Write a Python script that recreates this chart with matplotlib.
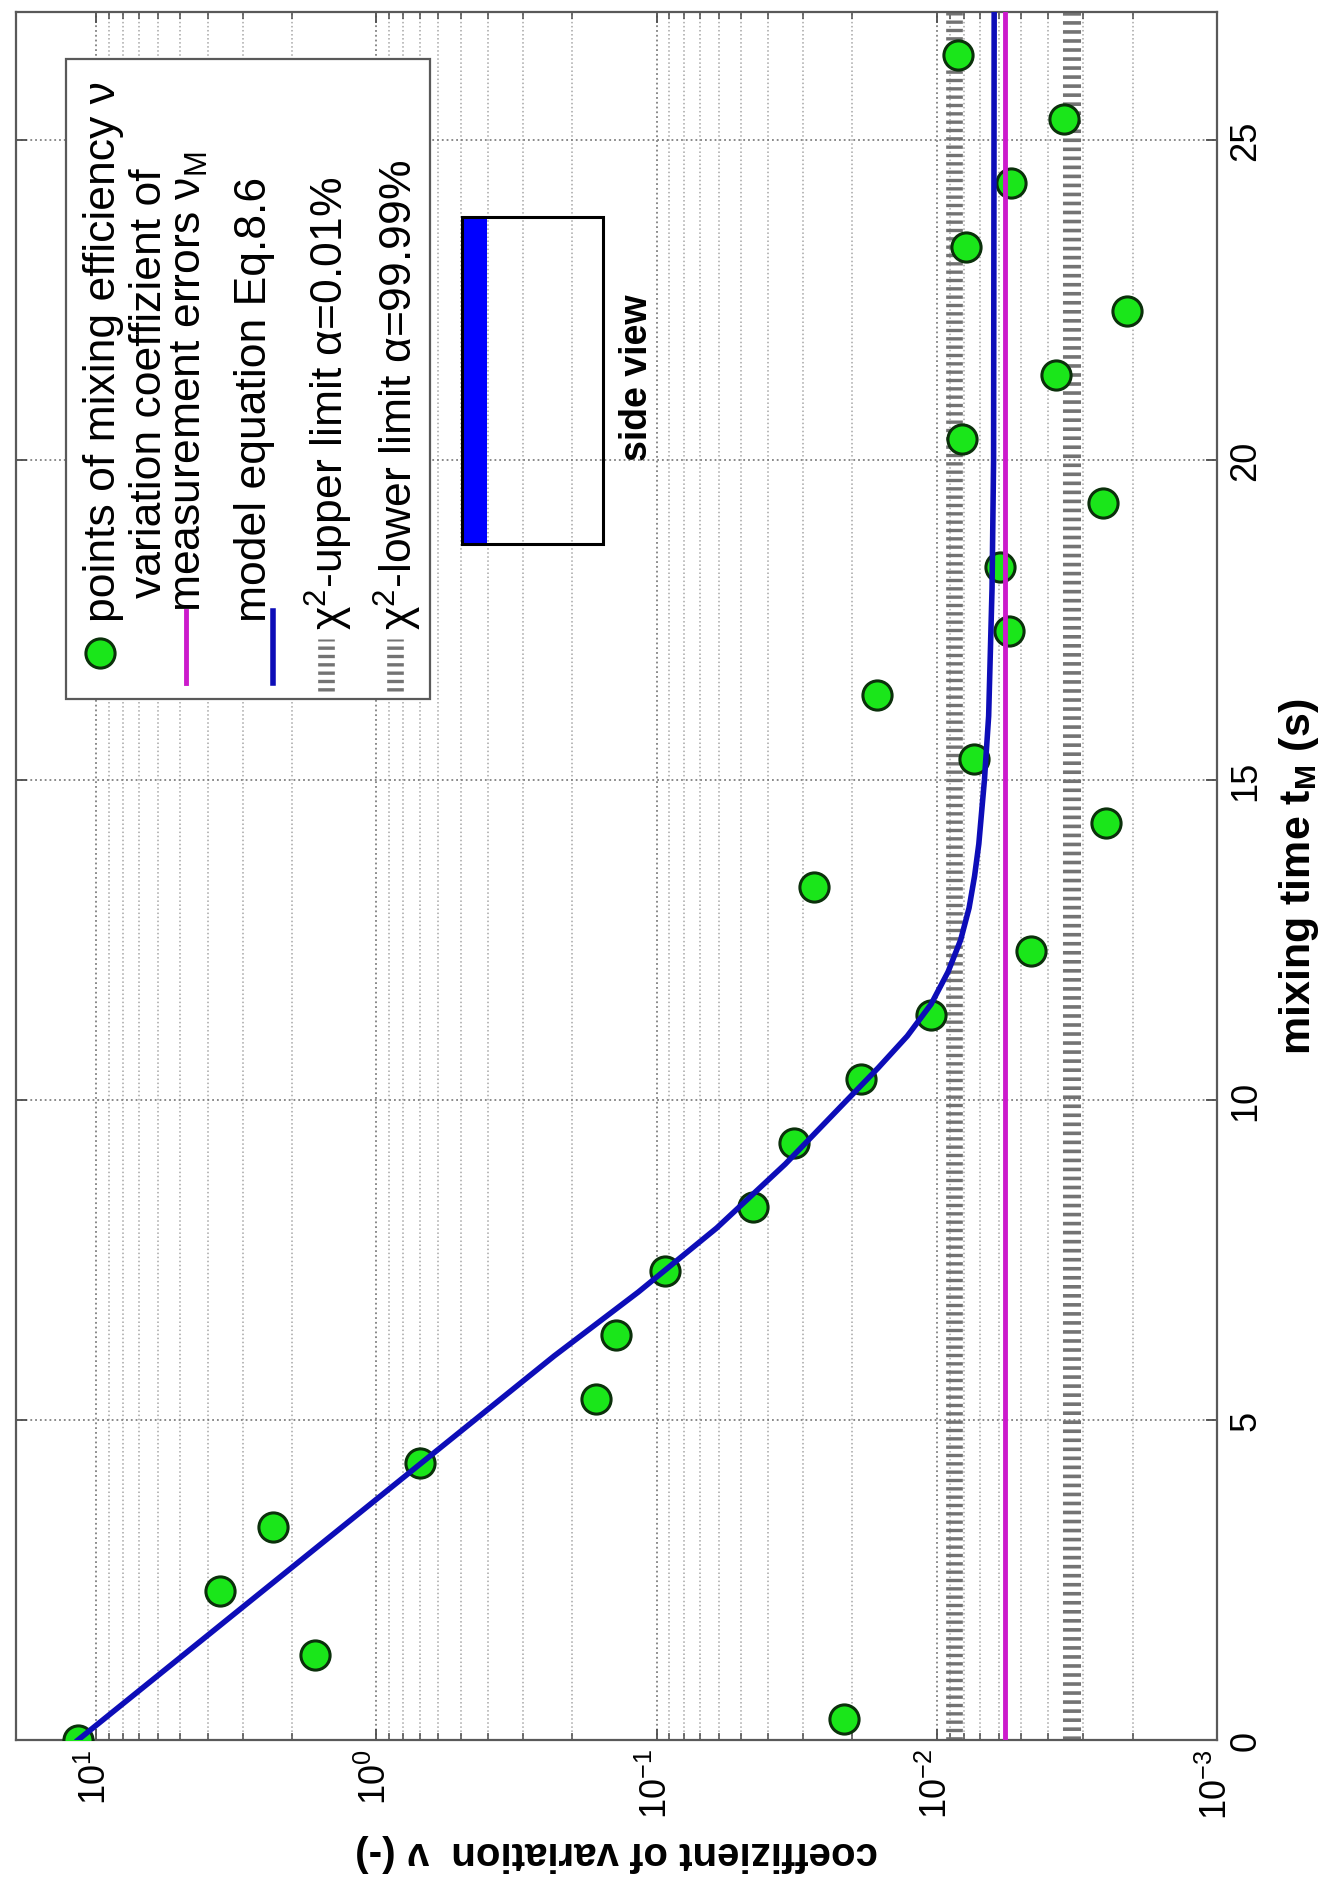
import matplotlib
matplotlib.use("Agg")
import matplotlib.pyplot as plt
from matplotlib.patches import Rectangle

plt.rcParams["font.family"] = ["Liberation Sans", "DejaVu Sans"]
plt.rcParams["mathtext.fontset"] = "custom"
plt.rcParams["mathtext.rm"] = "Liberation Sans"
plt.rcParams["mathtext.it"] = "Liberation Sans:italic"
plt.rcParams["mathtext.bf"] = "Liberation Sans:bold"

# measured points (mixing time in s, coefficient of variation)
t_points = [0, 0.33, 1.33, 2.33, 3.33, 4.33, 5.33, 6.33, 7.33, 8.33,
            9.33, 10.33, 11.33, 12.33, 13.33, 14.33, 15.33, 16.33, 17.33,
            18.33, 19.33, 20.33, 21.33, 22.33, 23.33, 24.33, 25.33, 26.33]
nu_points = [11.6, 0.0215, 1.66, 3.61, 2.33, 0.697, 0.165, 0.139, 0.0929, 0.0451,
             0.0324, 0.0187, 0.0105, 0.0046, 0.0275, 0.00249, 0.00738, 0.0163, 0.00553,
             0.00596, 0.00255, 0.00815, 0.00376, 0.0021, 0.00787, 0.00544, 0.00352, 0.0084]

# model equation Eq. 8.6
t_model = [0, 2, 4, 6, 7, 8, 9, 10, 10.5, 11, 11.5, 12, 12.5, 13, 13.5, 14, 15, 16, 18, 20, 27]
nu_model = [11.6, 3.15, 0.855, 0.232, 0.1161, 0.0610, 0.0347, 0.0209, 0.0162, 0.01274,
            0.01047, 0.00912, 0.00822, 0.00767, 0.00733, 0.00708, 0.00676, 0.00653,
            0.00635, 0.00627, 0.00624]

nu_M = 0.0057          # variation coefficient of measurement errors
chi_upper = 0.0087     # chi^2 upper limit alpha=0.01%
chi_lower = 0.0033     # chi^2 lower limit alpha=99.99%

nu_ticks = [1e-3, 1e-2, 1e-1, 1e0, 1e1]
nu_ticklabels = ["$10^{-3}$", "$10^{-2}$", "$10^{-1}$", "$10^{0}$", "$10^{1}$"]
t_ticks = [0, 5, 10, 15, 20, 25]

legend_labels = ["points of mixing efficiency ν",
                 "variation coeffizient of",
                 "measurement errors ν$_\\mathrm{M}$",
                 "model equation Eq.8.6",
                 "χ$^2$-upper limit α=0.01%",
                 "χ$^2$-lower limit α=99.99%"]

green = (0.1, 0.9, 0.1)
blue = (0.05, 0.05, 0.72)
magenta = (0.8, 0.1, 0.8)
chi_color = "0.45"
chi_style = (0, (0.2, 0.3))

fig = plt.figure(figsize=(13.33, 18.83), dpi=100)
ax = fig.add_axes([0.012, 0.0754, 0.901, 0.9177])

ax.set_xscale("log")
ax.set_xlim(19.3, 1e-3)
ax.set_ylim(0, 27)

# chart is drawn turned on its side: time runs upward, nu runs right to left
ax.axvline(chi_upper, color=chi_color, lw=12, ls=chi_style, zorder=2)
ax.axvline(chi_lower, color=chi_color, lw=13, ls=chi_style, zorder=2)
ax.plot(nu_points, t_points, "o", ms=21, mfc=green, mec="#0b300b", mew=2.2, zorder=3)
ax.axvline(nu_M, color=magenta, lw=3.5, zorder=4)
ax.plot(nu_model, t_model, color=blue, lw=4, zorder=5)

ax.set_xticks(nu_ticks)
ax.set_xticklabels(nu_ticklabels)
ax.set_yticks(t_ticks)
ax.set_yticklabels([str(v) for v in t_ticks])

ax.set_axisbelow(True)
ax.grid(True, which="major", axis="x", ls=":", color="0.5", lw=1.3)
ax.grid(True, which="minor", axis="x", ls=":", color="0.65", lw=1.1)
ax.grid(True, which="major", axis="y", ls=":", color="0.5", lw=1.3)

ax.tick_params(which="both", direction="in", top=True, bottom=True, left=True, right=True,
               labelleft=False, labelright=True, colors="0.3", labelcolor="black")
ax.tick_params(which="major", length=8, width=1.3)
ax.tick_params(which="minor", length=5, width=1.1)
ax.tick_params(axis="x", labelsize=26, labelrotation=90, pad=6)
ax.tick_params(axis="y", labelsize=26, labelrotation=90, pad=8)
for lbl in ax.get_yticklabels():
    lbl.set_va("center")

for s in ax.spines.values():
    s.set_color("0.35")
    s.set_linewidth(1.6)

ax.set_xlabel("coeffizient of variation  ν (-)", rotation=180, fontsize=29,
              fontweight="bold", labelpad=10)
ax.yaxis.set_label_position("right")
ax.set_ylabel("mixing time $\\mathbf{t_M}$ (s)", rotation=90, fontsize=31,
              fontweight="bold", labelpad=10)


def axpos(px, py):
    # pixel position in the picture -> axes fraction
    return (px - 16) / 1201, (1741 - py) / 1728


# legend drawn by hand, turned like the rest
x0, y0 = axpos(66, 700)
x1, y1 = axpos(430, 60)
ax.add_patch(Rectangle((x0, y0), x1 - x0, y1 - y0, transform=ax.transAxes,
                       facecolor="white", edgecolor="0.35", lw=1.6, zorder=10))

lx, ly = axpos(100, 654)
ax.plot([lx], [ly], "o", ms=21, mfc=green, mec="#0b300b", mew=2.2,
        transform=ax.transAxes, clip_on=False, zorder=11)
samples = [(186, 612, 684, magenta, 3.5, "-"), (273, 612, 684, blue, 4, "-"),
           (326, 640, 692, chi_color, 12, chi_style), (395, 640, 692, chi_color, 12, chi_style)]
for px, top, bottom, color, lw, ls in samples:
    xa, ya0 = axpos(px, bottom)
    _, ya1 = axpos(px, top)
    ax.plot([xa, xa], [ya0, ya1], color=color, lw=lw, ls=ls,
            transform=ax.transAxes, clip_on=False, zorder=11)

text_spots = [(104, 622), (150, 598), (189, 612), (254, 622), (329, 630), (398, 630)]
for (px, py), txt in zip(text_spots, legend_labels):
    xa, ya = axpos(px, py)
    ax.text(xa, ya, txt, rotation=90, ha="center", va="bottom", fontsize=32,
            transform=ax.transAxes, zorder=12)

# side view sketch
sx0, sy0 = axpos(462, 545)
sx1, sy1 = axpos(603, 218)
bx1, _ = axpos(487, 545)
ax.add_patch(Rectangle((sx0, sy0), bx1 - sx0, sy1 - sy0, transform=ax.transAxes,
                       facecolor=(0, 0, 1), edgecolor="none", zorder=10))
ax.add_patch(Rectangle((sx0, sy0), sx1 - sx0, sy1 - sy0, transform=ax.transAxes,
                       facecolor="none", edgecolor="black", lw=2.2, zorder=11))
tx, ty = axpos(637, 378)
ax.text(tx, ty, "side view", rotation=90, ha="center", va="center", fontsize=27,
        fontweight="bold", transform=ax.transAxes, zorder=12)

fig.savefig("out.png", dpi=100)
